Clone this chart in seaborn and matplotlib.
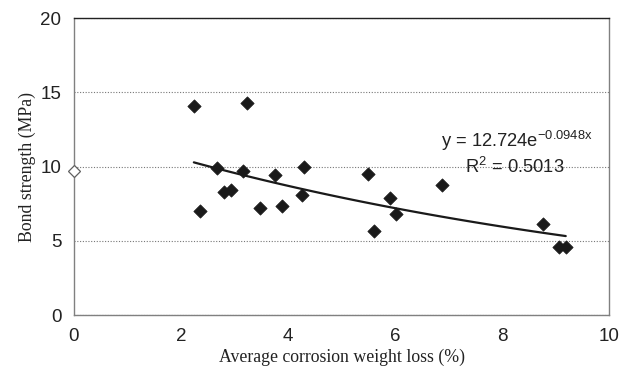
import numpy as np
import pandas as pd
import seaborn as sns
import matplotlib.pyplot as plt

# corrosion weight loss (%) vs bond strength (MPa)
weight_loss = [2.24, 2.35, 2.68, 2.81, 2.93, 3.15, 3.24, 3.47, 3.76, 3.89,
               4.26, 4.30, 5.50, 5.60, 5.90, 6.02, 6.87, 8.76, 9.06, 9.19]
bond_strength = [14.09, 7.01, 9.93, 8.27, 8.43, 9.71, 14.29, 7.21, 9.44, 7.37,
                 8.09, 10.00, 9.51, 5.64, 7.91, 6.79, 8.74, 6.16, 4.58, 4.58]
# uncorroded reference specimen
ref_loss = [0.0]
ref_strength = [9.69]
# exponential fit y = a * exp(b x)
fit_a = 12.724
fit_b = -0.0948
fit_r2 = 0.5013

df = pd.DataFrame({"loss": weight_loss, "strength": bond_strength})

sns.set_style("white")
plt.rcParams["font.family"] = ["Liberation Sans", "DejaVu Sans"]
plt.rcParams["mathtext.fontset"] = "custom"
plt.rcParams["mathtext.rm"] = "Liberation Sans"
plt.rcParams["mathtext.it"] = "Liberation Sans"

fig = plt.figure(figsize=(6.34, 3.72), dpi=100)
ax = fig.add_axes([0.1167, 0.153, 0.844, 0.798])

sns.scatterplot(data=df, x="loss", y="strength", marker="D", s=46,
                color="#1a1a1a", edgecolor="#1a1a1a", linewidth=0.5, ax=ax, zorder=3)

ax.plot(ref_loss, ref_strength, marker="D", markersize=6.5, markerfacecolor="white",
        markeredgecolor="#606060", markeredgewidth=0.9, linestyle="none",
        clip_on=False, zorder=4)

xs = np.linspace(min(weight_loss), max(weight_loss), 100)
ax.plot(xs, fit_a * np.exp(fit_b * xs), color="#1a1a1a", lw=1.6, zorder=2)

ax.text(6.85, 11.75, "y = 12.724e$^{-0.0948x}$", fontsize=13.2, color="#222222",
        va="center", ha="left")
ax.text(7.3, 10.0, "R$^{2}$ = 0.5013", fontsize=13.2, color="#222222",
        va="center", ha="left")

ax.set_xlim(0, 10)
ax.set_ylim(0, 20)
ax.set_xticks([0, 2, 4, 6, 8, 10])
ax.set_yticks([0, 5, 10, 15, 20])
ax.yaxis.grid(True, linestyle=(0, (1, 1.5)), color="#777777", lw=0.8)
ax.xaxis.grid(False)

for side in ["left", "bottom", "right"]:
    ax.spines[side].set_color("#808080")
    ax.spines[side].set_linewidth(1.0)
ax.spines["top"].set_color("#222222")
ax.spines["top"].set_linewidth(1.0)

ax.tick_params(axis="x", direction="in", length=4, color="#808080",
               labelsize=13.5, pad=9, labelcolor="#222222")
ax.tick_params(axis="y", length=0, labelsize=13.5, pad=9, labelcolor="#222222")

serif = ["Liberation Serif", "DejaVu Serif"]
ax.set_xlabel("Average corrosion weight loss (%)", family=serif, fontsize=12.8,
              color="#222222", labelpad=3)
ax.set_ylabel("Bond strength (MPa)", family=serif, fontsize=12.8,
              color="#222222", labelpad=3)

fig.savefig("out.png", dpi=100)
